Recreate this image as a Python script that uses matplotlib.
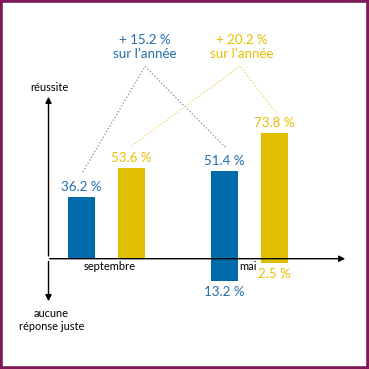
import matplotlib
matplotlib.use("Agg")
import matplotlib.pyplot as plt
from matplotlib.patches import Rectangle

plt.rcParams['font.family'] = ['Lato', 'DejaVu Sans']

months = ['septembre', 'mai']
reussite = [36.2, 53.6, 51.4, 73.8]      # blue sept, yellow sept, blue mai, yellow mai
aucune = [0, 0, 13.2, 2.5]
labels_top = ['36.2 %', '53.6 %', '51.4 %', '73.8 %']
labels_bottom = ['', '', '13.2 %', '2.5 %']
gains = ['+ 15.2 %\nsur l’année', '+ 20.2 %\nsur l’année']

blue = '#006AAB'
yellow = '#E2BE00'
blue_txt = '#1F6EAF'
yellow_txt = '#E6BF00'
colors = [blue, yellow, blue, yellow]
txt_colors = [blue_txt, yellow_txt, blue_txt, yellow_txt]

# pixel -> percent helpers (zero line at 258.7 px, 1.7 px per %)
Y0, S = 258.7, 1.7
def py(p):
    return (Y0 - p) / S

fig = plt.figure(figsize=(3.69, 3.69), dpi=100)
ax = fig.add_axes([0, 0, 1, 1])
ax.set_xlim(0, 369)
ax.set_ylim(py(369), py(0))
ax.axis('off')

xs = [81.2, 131.5, 224.4, 274.3]
w = 27
ax.bar(xs, reussite, width=w, color=colors, zorder=2)
ax.bar(xs, [-a for a in aucune], width=w, color=colors, zorder=2)

fs = 9.6
for x, v, lab, c in zip(xs, reussite, labels_top, txt_colors):
    ax.text(x, v + 10 / S, lab, ha='center', va='center', fontsize=fs, color=c)
for x, v, lab, c in zip(xs, aucune, labels_bottom, txt_colors):
    if lab:
        ax.text(x, -v - 11 / S, lab, ha='center', va='center', fontsize=fs, color=c)

# axes with arrows
ax.annotate('', xy=(348, 0), xytext=(47, 0),
            arrowprops=dict(arrowstyle='-|>', color='black', lw=1, mutation_scale=9))
ax.annotate('', xy=(48.5, py(94)), xytext=(48.5, 0),
            arrowprops=dict(arrowstyle='-|>', color='black', lw=1, mutation_scale=9))
ax.annotate('', xy=(48.5, py(304)), xytext=(48.5, 0),
            arrowprops=dict(arrowstyle='-|>', color='black', lw=1, mutation_scale=9))

ax.text(49, py(87), 'réussite', ha='center', va='center', fontsize=8)
ax.text(51.5, py(320), 'aucune\nréponse juste', ha='center', va='center',
        fontsize=7.9, linespacing=1.25)
ax.text(110, py(266), months[0], ha='center', va='center', fontsize=8)
ax.text(248, py(266), months[1], ha='center', va='center', fontsize=8)

# yearly gain annotations
ax.text(145, py(47), gains[0], ha='center', va='center', fontsize=fs,
        color=blue_txt, linespacing=1.2)
ax.text(242, py(47), gains[1], ha='center', va='center', fontsize=fs,
        color=yellow_txt, linespacing=1.2)

ax.plot([82.7, 145, 226.7], [py(172), py(66.5), py(148.5)], ls=':',
        color='#6F8FB8', lw=0.9)
ax.plot([131.7, 240, 276.5], [py(146), py(66), py(113)], ls=':',
        color='#F0D24A', lw=0.9)

fig.patches.append(Rectangle((0.004, 0.004), 0.992, 0.992, transform=fig.transFigure,
                             fill=False, edgecolor='#7B1A56', lw=2.6))

fig.savefig('out.png', dpi=100, facecolor='white')
